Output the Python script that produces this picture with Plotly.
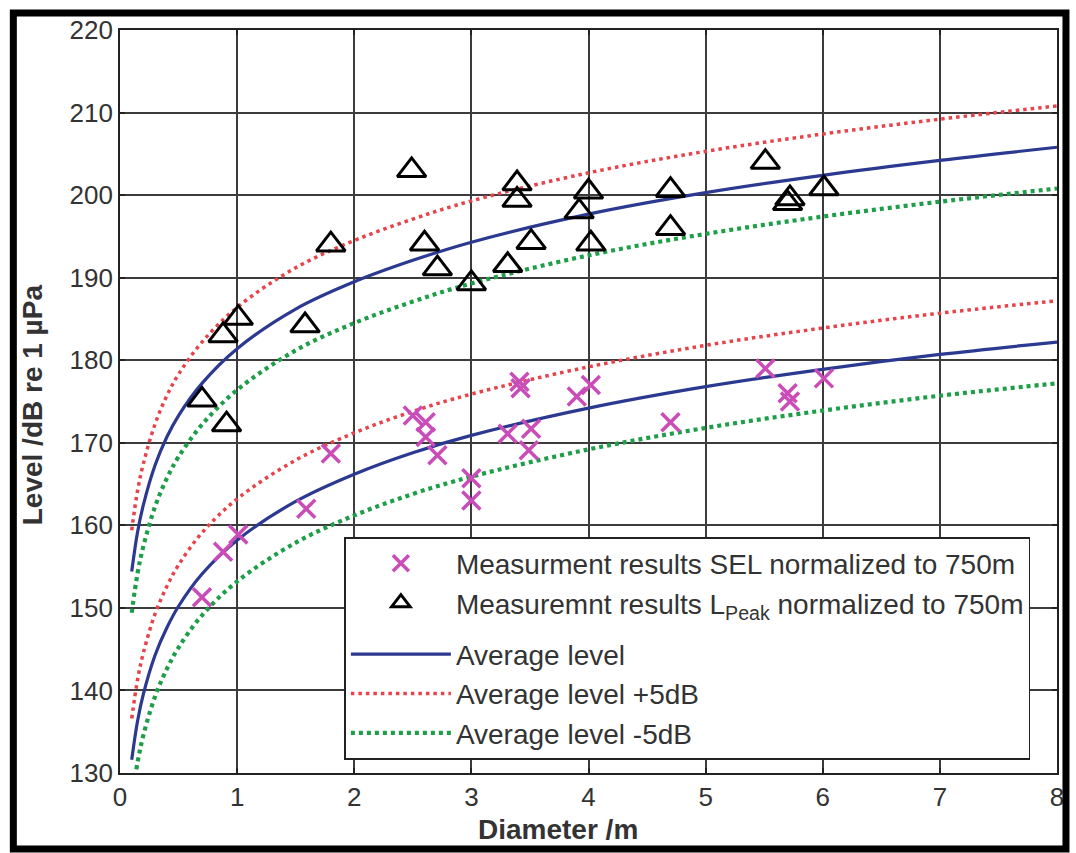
import plotly.graph_objects as go

# Diameter grid for the fitted average-level curves
diam_curve = [0.1, 0.15, 0.2, 0.3, 0.4, 0.5, 0.7, 1.0, 1.5, 2.0, 2.5, 3.0, 4.0, 5.0, 6.0, 7.0, 8.0]
# Average peak level (L_Peak) and average SEL, dB re 1 µPa, normalized to 750 m
peak_avg = [154.4, 159.2, 162.5, 167.3, 170.7, 173.3, 177.2, 181.4, 186.2, 189.5, 192.1, 194.3, 197.7, 200.3, 202.4, 204.2, 205.8]
sel_avg = [131.6, 136.3, 139.6, 144.3, 147.6, 150.2, 154.1, 158.2, 162.9, 166.2, 168.8, 170.9, 174.2, 176.8, 178.9, 180.7, 182.2]
band_offset = 5.0  # dB, upper/lower band around the average level

# Measured SEL values
sel_diam = [0.70, 0.88, 1.01, 1.59, 1.80, 2.50, 2.61, 2.61, 2.71, 3.00, 3.00, 3.31,
            3.41, 3.42, 3.51, 3.49, 3.90, 4.02, 4.70, 5.51, 5.70, 5.72, 6.01]
sel_level = [151.3, 156.8, 158.9, 162.0, 168.7, 173.3, 172.5, 170.7, 168.5, 165.7, 163.0, 171.1,
             177.4, 176.6, 171.7, 169.1, 175.6, 177.0, 172.5, 179.0, 176.0, 175.0, 177.8]

# Measured peak levels
peak_diam = [0.70, 0.91, 0.88, 1.01, 1.58, 1.80, 2.49, 2.60, 2.71, 3.00, 3.31, 3.39,
             3.39, 3.51, 3.92, 4.00, 4.02, 4.70, 4.70, 5.51, 5.70, 5.72, 6.01]
peak_level = [175.2, 172.2, 183.0, 185.1, 184.2, 194.0, 203.0, 194.1, 191.1, 189.3, 191.5, 201.4,
              199.4, 194.3, 198.0, 200.4, 194.1, 200.6, 196.0, 204.0, 199.0, 199.6, 200.8]

x_ticks = [0, 1, 2, 3, 4, 5, 6, 7, 8]
y_ticks = [130, 140, 150, 160, 170, 180, 190, 200, 210, 220]


def two_curves(offset):
    """Join the peak and SEL curves into one trace, separated by a gap."""
    xs = diam_curve + [None] + diam_curve
    ys = [v + offset for v in peak_avg] + [None] + [v + offset for v in sel_avg]
    return xs, ys


BLUE = "#2b3990"
RED = "#e8424a"
GREEN = "#1e9e48"
MAGENTA = "#c94cb8"
TXT = "#333333"
FONT = "Liberation Sans, Arial, sans-serif"

fig = go.Figure()

x, y = two_curves(0.0)
fig.add_trace(go.Scatter(x=x, y=y, mode="lines", name="Average level",
                         line=dict(color=BLUE, width=3.2, shape="spline"),
                         connectgaps=False, legendgroup="curves", legendrank=3))
x, y = two_curves(band_offset)
fig.add_trace(go.Scatter(x=x, y=y, mode="lines", name="Average level +5dB",
                         line=dict(color=RED, width=3.5, dash="3.5px,4px", shape="spline"),
                         connectgaps=False, legendgroup="curves", legendrank=4))
x, y = two_curves(-band_offset)
fig.add_trace(go.Scatter(x=x, y=y, mode="lines", name="Average level -5dB",
                         line=dict(color=GREEN, width=4.2, dash="4px,4px", shape="spline"),
                         connectgaps=False, legendgroup="curves", legendrank=5))

fig.add_trace(go.Scatter(x=sel_diam, y=sel_level, mode="markers",
                         name="Measurment results SEL normalized to 750m",
                         marker=dict(symbol="x-thin-open", size=18, color=MAGENTA,
                                     line=dict(color=MAGENTA, width=3.5)),
                         legendgroup="measured", legendrank=1))
fig.add_trace(go.Scatter(x=peak_diam, y=peak_level, mode="markers",
                         name="Measuremnt results L<sub>Peak</sub> normalized to 750m",
                         marker=dict(symbol="triangle-up-open", size=25, color="black",
                                     line=dict(color="black", width=3)),
                         legendgroup="measured", legendrank=2))

# plot area in pixels: x 120..1060, y 30..773
L, R, T, B = 120, 16, 30, 80
W, H = 1076, 853
pw, ph = W - L - R, H - T - B


def px_to_paper(px, py):
    return (px - L) / pw, (H - B - py) / ph


fx0, fy0 = px_to_paper(13, 849)
fx1, fy1 = px_to_paper(1069, 13)
xt_x, xt_y = px_to_paper(559, 829)
yt_x, yt_y = px_to_paper(32, 405)

axis_common = dict(
    showgrid=True, gridcolor="#3c3c3c", gridwidth=1.8,
    showline=True, linecolor="#222222", linewidth=1.6, mirror="allticks",
    ticks="inside", ticklen=5, tickcolor="#222222", tickwidth=1.6,
    zeroline=False,
    tickfont=dict(family=FONT, size=26, color=TXT),
)

fig.update_layout(
    width=W, height=H,
    margin=dict(l=L, r=R, t=T, b=B),
    paper_bgcolor="white", plot_bgcolor="white",
    font=dict(family=FONT, color=TXT),
    xaxis=dict(range=[0, 8], tickvals=x_ticks, ticktext=[str(v) for v in x_ticks],
               **axis_common),
    yaxis=dict(range=[130, 220], tickvals=y_ticks, ticktext=[str(v) for v in y_ticks],
               **axis_common),
    annotations=[
        dict(text="<b>Diameter /m</b>", xref="paper", yref="paper", x=xt_x, y=xt_y,
             xanchor="center", yanchor="middle", showarrow=False,
             font=dict(family=FONT, size=28, color=TXT)),
        dict(text="<b>Level /dB re 1 µPa</b>", xref="paper", yref="paper", x=yt_x, y=yt_y,
             xanchor="center", yanchor="middle", showarrow=False, textangle=-90,
             font=dict(family=FONT, size=28, color=TXT)),
    ],
    legend=dict(x=px_to_paper(345, 537)[0], y=px_to_paper(345, 537)[1],
                xanchor="left", yanchor="top",
                bgcolor="white", bordercolor="#222222", borderwidth=1.6,
                font=dict(family=FONT, size=28, color=TXT), itemwidth=100,
                traceorder="grouped", tracegroupgap=12),
    showlegend=True,
    shapes=[dict(type="rect", xref="paper", yref="paper",
                 x0=fx0, y0=fy0, x1=fx1, y1=fy1,
                 line=dict(color="black", width=7), layer="above")],
)

fig.write_html("out.html")
